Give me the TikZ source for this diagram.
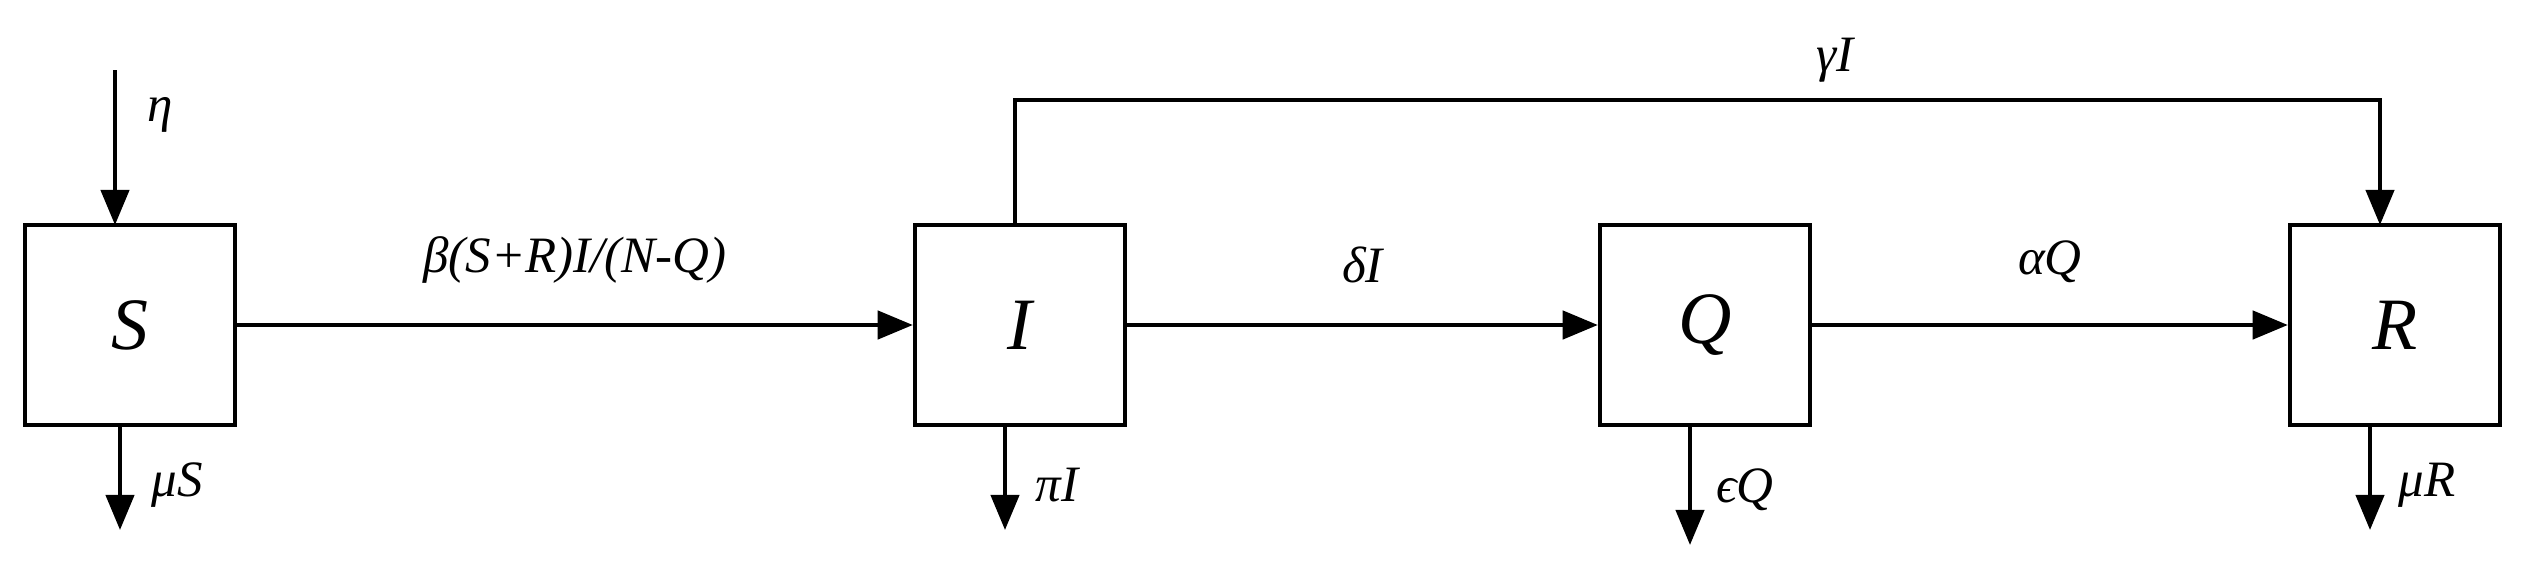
\documentclass[tikz,border=0pt]{standalone}
\usepackage{fontspec}
\setmainfont{Liberation Serif}
\usetikzlibrary{arrows.meta}
\begin{document}
\begin{tikzpicture}[x=0.01cm,y=0.01cm,
  box/.style={draw,line width=1.2pt,minimum width=2.1cm,minimum height=2cm,inner sep=0,font=\fontsize{21}{24}\selectfont\itshape},
  arr/.style={line width=1.2pt,-{Triangle[length=10pt,width=8pt]}},
  lab/.style={font=\fontsize{14.5}{17}\selectfont\itshape}]
\useasboundingbox (0,0) rectangle (2529,581);
\node[box] (S) at (130,256) {S};
\node[box] (I) at (1020,256) {I};
\node[box] (Q) at (1705,256) {Q};
\node[box] (R) at (2395,256) {R};
\coordinate (etaTop) at (115,511);
\draw[arr] (etaTop) -- (115,356);
\node[lab] (eta) at (160,466) {η};
\draw[arr] (S) -- node[lab,above=8pt] {β(S+R)I/(N-Q)} (I);
\draw[arr] (I) -- node[lab,above=8pt] {δI} (Q);
\draw[arr] (Q) -- node[lab,above=8pt] {αQ} (R);
\coordinate (c1) at (1015,481);
\coordinate (c2) at (2380,481);
\draw[arr] (1015,356) -- (c1) -- (c2) -- (2380,356);
\node[lab] (g) at (1835,521) {γI};
\coordinate (oS) at (120,51); \draw[arr] (120,156) -- (oS);
\node[lab] (lS) at (177,96) {μS};
\coordinate (oI) at (1005,51); \draw[arr] (1005,156) -- (oI);
\node[lab] (lI) at (1057,96) {πI};
\coordinate (oQ) at (1690,36); \draw[arr] (1690,156) -- (oQ);
\node[lab] (lQ) at (1745,91) {ϵQ};
\coordinate (oR) at (2370,51); \draw[arr] (2370,156) -- (oR);
\node[lab] (lR) at (2427,96) {μR};
\end{tikzpicture}
\end{document}
